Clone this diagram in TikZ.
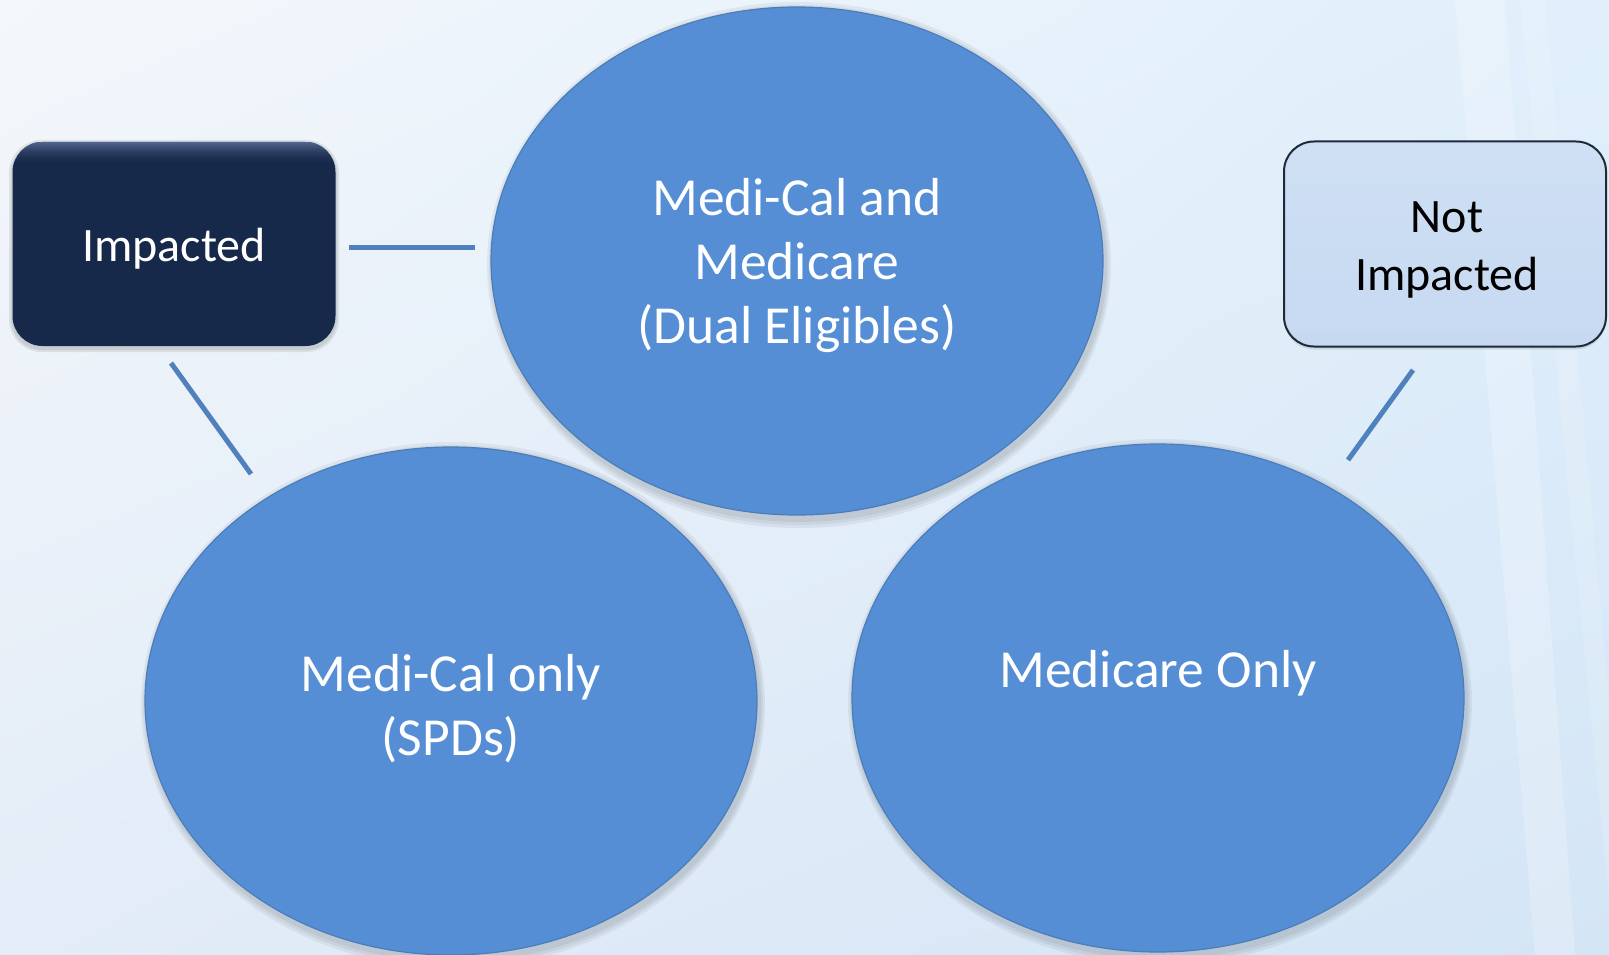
\documentclass[tikz,border=0pt]{standalone}
\usepackage{fontspec}
\setmainfont{Carlito}
\usetikzlibrary{shadows,calc,shadings,shapes.geometric}
\definecolor{ellfill}{HTML}{558ED5}
\definecolor{ellline}{HTML}{4A7EBB}
\definecolor{connclr}{HTML}{4F81BD}
\definecolor{navymid}{HTML}{17294A}
\definecolor{navytop}{HTML}{50668C}
\definecolor{palemid}{HTML}{C6D9F1}
\definecolor{paletop}{HTML}{CFE0F4}
\definecolor{paleline}{HTML}{1E2A3A}
\definecolor{bgUL}{HTML}{F4F7FB}
\definecolor{bgUR}{HTML}{E0EFFB}
\definecolor{bgLL}{HTML}{E3ECF7}
\definecolor{bgLR}{HTML}{D4E5F6}
\tikzset{
  ellnode/.style={ellipse, draw=ellline, line width=1.2pt, fill=ellfill,
    minimum width=612pt, minimum height=508pt, inner sep=0pt},
  ellshadow/.style={ellipse, fill=black, opacity=0.05, inner sep=0pt},
  ellttext/.style={text=white, align=center, font=\fontsize{53.5}{64}\selectfont},
  impbox/.style={rounded corners=30pt, minimum width=323pt, minimum height=204pt,
    fill=navymid, draw=none, inner sep=0pt},
  imptext/.style={text=white, font=\fontsize{48}{60}\selectfont},
  notbox/.style={rounded corners=30pt, minimum width=322pt, minimum height=205pt,
    top color=paletop, bottom color=palemid, draw=paleline, line width=2pt,
    inner sep=0pt},
  nottext/.style={text=black, align=center, font=\fontsize{48}{58}\selectfont},
  connline/.style={draw=connclr, line width=5pt},
}
\begin{document}
\begin{tikzpicture}[x=1pt,y=-1pt]
\useasboundingbox (0,0) rectangle (1609,955);
% background
\shade[upper left=bgUL, upper right=bgUR, lower left=bgLL, lower right=bgLR]
  (0,0) rectangle (1609,955);
\fill[white, opacity=0.22] (1455,0) -- (1505,0) -- (1575,955) -- (1535,955) -- cycle;
\fill[white, opacity=0.15] (1520,0) -- (1545,0) -- (1609,700) -- (1609,900) -- cycle;

% ellipse shadows
\foreach \cx/\cy in {797/261, 451/701, 1158/698}{
  \node[ellshadow, minimum width=616pt, minimum height=514pt] at (\cx+2,\cy+4) {};
  \node[ellshadow, minimum width=620pt, minimum height=520pt] at (\cx+2,\cy+4) {};
  \node[ellshadow, minimum width=624pt, minimum height=526pt] at (\cx+2,\cy+4) {};
}

% ellipses
\node[ellnode] (dual) at (797,261) {};
\node[ellnode] (mcal) at (451,701) {};
\node[ellnode] (mcare) at (1158,698) {};

\node[ellttext] (dualtxt) at (797,266) {Medi-Cal and\\Medicare\\(Dual Eligibles)};
\node[ellttext] (mcaltxt) at (451,709) {Medi-Cal only\\(SPDs)};
\node[ellttext] (mcaretxt) at (1158,673) {Medicare Only};

% boxes
\fill[black, opacity=0.08, rounded corners=33pt] (9,140) rectangle (339,352);
\fill[black, opacity=0.08, rounded corners=31pt] (11,142) rectangle (337,350);
\node[impbox] (imp) at (174,244) {};
\begin{scope}
  \clip[rounded corners=30pt] (imp.north west) rectangle (imp.south east);
  \foreach \i in {0,...,23}{
    \pgfmathsetmacro\op{(1-\i/24)^2}
    \fill[navytop, opacity=\op] ([yshift=-\i pt]imp.north west) rectangle ([yshift=-\i pt-1pt]imp.north east);
  }
\end{scope}
\node[imptext] (imptxt) at (174,249) {Impacted};
\node[notbox, drop shadow={shadow xshift=0pt, shadow yshift=-3pt, opacity=0.2}] (notimp) at (1445,244) {};
\node[nottext] (nottxt) at (1447,250) {Not\\Impacted};

% connectors
\coordinate (impR) at (349,247);
\coordinate (dualL) at (475,247);
\coordinate (impB) at (171,363);
\coordinate (mcalT) at (251,474);
\coordinate (notB) at (1413,370);
\coordinate (mcareT) at (1348,460);
\draw[connline] (impR) -- (dualL);
\draw[connline] (impB) -- (mcalT);
\draw[connline] (notB) -- (mcareT);
\end{tikzpicture}
\end{document}
